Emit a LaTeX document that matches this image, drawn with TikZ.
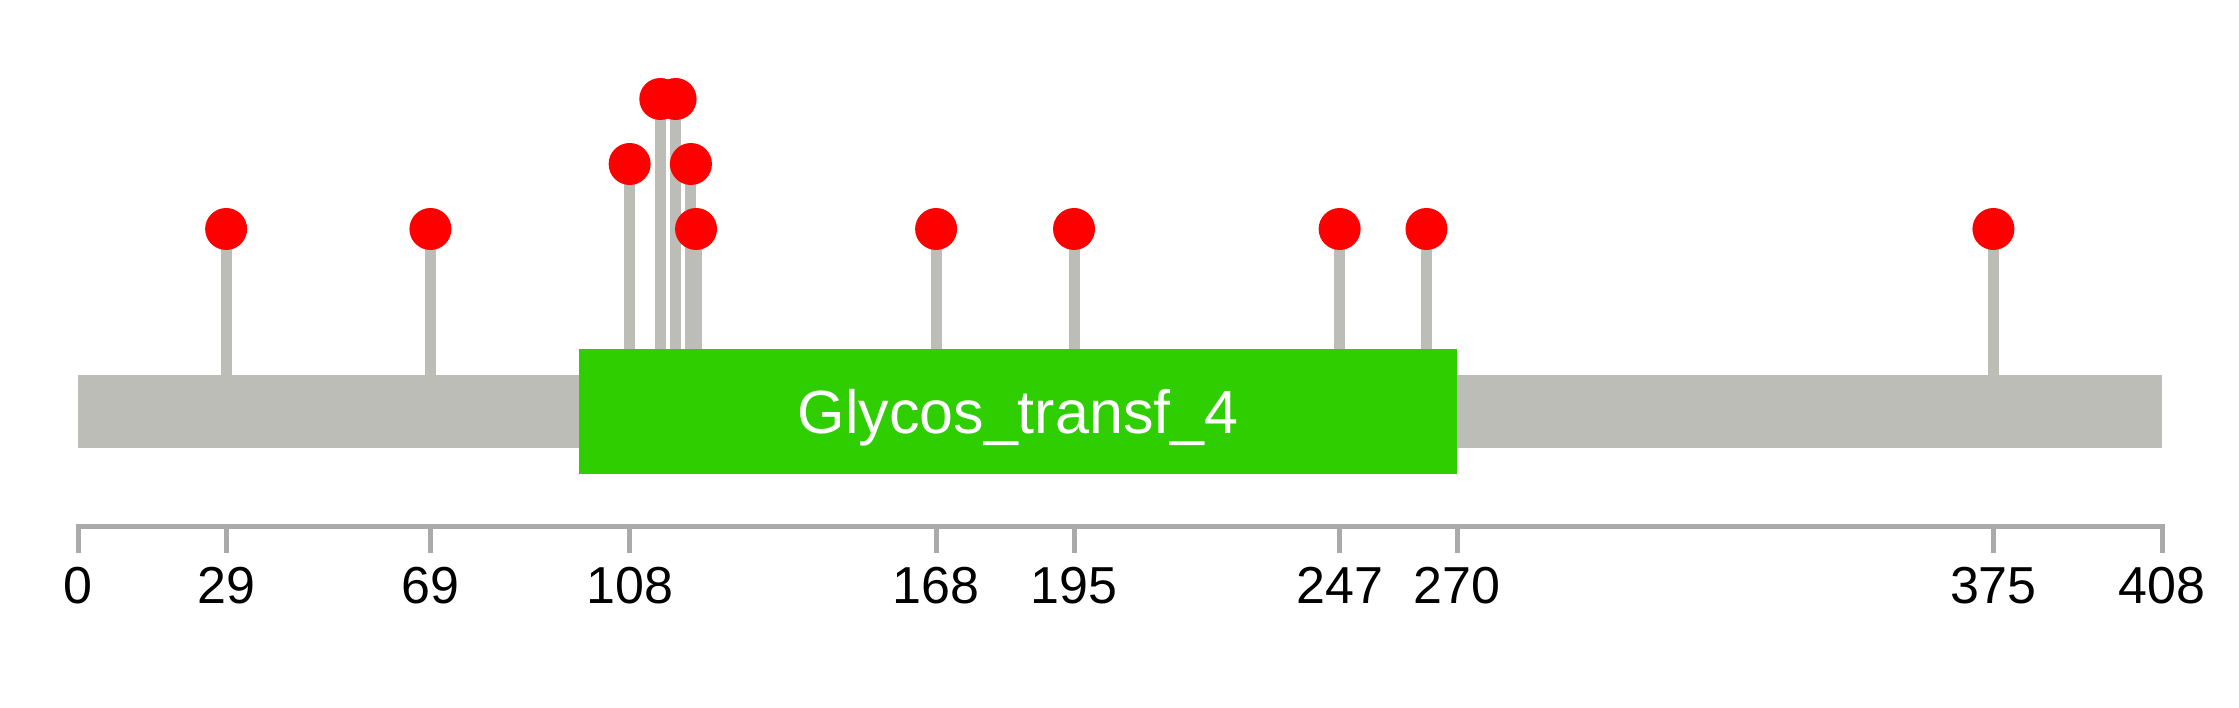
\documentclass[tikz,border=0pt]{standalone}
\usepackage{fontspec}
\setmainfont{Liberation Sans}
\usepackage{tikz}
\usetikzlibrary{positioning,backgrounds}
\definecolor{cChain}{HTML}{BBBDB6}
\definecolor{cDomain}{HTML}{2ECE00}
\definecolor{cSite}{HTML}{FF0000}
\definecolor{cAxis}{HTML}{AAAAAA}
\tikzset{
  prot/.style  = {rectangle, fill=cChain, inner sep=0pt, anchor=north west,
                  minimum width=2084pt, minimum height=73pt},
  dom/.style   = {rectangle, fill=cDomain, inner sep=0pt, anchor=north west,
                  minimum width=878.5pt, minimum height=125pt, text=white,
                  font=\fontsize{61}{70}\selectfont, text height=43pt, text depth=0pt},
  stem/.style  = {draw=cChain, line width=11pt},
  site/.style  = {circle, fill=cSite, inner sep=0pt, minimum size=42pt},
  axis/.style  = {draw=cAxis, line width=5pt},
  num/.style   = {anchor=base, inner sep=0pt, font=\fontsize{52}{60}\selectfont},
}

\begin{document}
\begin{tikzpicture}[x=1pt, y=-1pt]
  \useasboundingbox (0,0) rectangle (2239,708);
  \begin{scope}[xshift=78pt, x=5.1078pt]
  \node[prot] (prot) at (0,375) {};
  \node[dom] (dom) at (98,349) {Glycos\_transf\_4};

  \node[site] (s29)  at (29,229)  {};
  \node[site] (s69)  at (69,229)  {};
  \node[site] (s108) at (108,164) {};
  \node[site] (s114) at (114,99)  {};
  \node[site] (s117) at (117,99)  {};
  \node[site] (s120) at (120,164) {};
  \node[site] (s121) at (121,229) {};
  \node[site] (s168) at (168,229) {};
  \node[site] (s195) at (195,229) {};
  \node[site] (s247) at (247,229) {};
  \node[site] (s264) at (264,229) {};
  \node[site] (s375) at (375,229) {};

  \begin{scope}[on background layer]
    \draw[stem] (s29.center)  -- (s29 |- prot.north);
    \draw[stem] (s69.center)  -- (s69 |- prot.north);
    \draw[stem] (s108.center) -- (s108 |- prot.north);
    \draw[stem] (s114.center) -- (s114 |- prot.north);
    \draw[stem] (s117.center) -- (s117 |- prot.north);
    \draw[stem] (s120.center) -- (s120 |- prot.north);
    \draw[stem] (s121.center) -- (s121 |- prot.north);
    \draw[stem] (s168.center) -- (s168 |- prot.north);
    \draw[stem] (s195.center) -- (s195 |- prot.north);
    \draw[stem] (s247.center) -- (s247 |- prot.north);
    \draw[stem] (s264.center) -- (s264 |- prot.north);
    \draw[stem] (s375.center) -- (s375 |- prot.north);
  \end{scope}

  \coordinate (a0)   at (0,526.5);
  \coordinate (a408) at (408,526.5);
  \draw[axis] ([yshift=-26.5pt]a0) -- (a0) -- (a408) -- ([yshift=-26.5pt]a408);

  \node[num] (n0)   at (0,603)   {0};
  \node[num] (n29)  at (29,603)  {29};
  \node[num] (n69)  at (69,603)  {69};
  \node[num] (n108) at (108,603) {108};
  \node[num] (n168) at (168,603) {168};
  \node[num] (n195) at (195,603) {195};
  \node[num] (n247) at (247,603) {247};
  \node[num] (n270) at (270,603) {270};
  \node[num] (n375) at (375,603) {375};
  \node[num] (n408) at (408,603) {408};

  \draw[axis] (n29 |- a0)  -- ++(0,26.5);
  \draw[axis] (n69 |- a0)  -- ++(0,26.5);
  \draw[axis] (n108 |- a0) -- ++(0,26.5);
  \draw[axis] (n168 |- a0) -- ++(0,26.5);
  \draw[axis] (n195 |- a0) -- ++(0,26.5);
  \draw[axis] (n247 |- a0) -- ++(0,26.5);
  \draw[axis] (n270 |- a0) -- ++(0,26.5);
  \draw[axis] (n375 |- a0) -- ++(0,26.5);
  \end{scope}
\end{tikzpicture}
\end{document}
